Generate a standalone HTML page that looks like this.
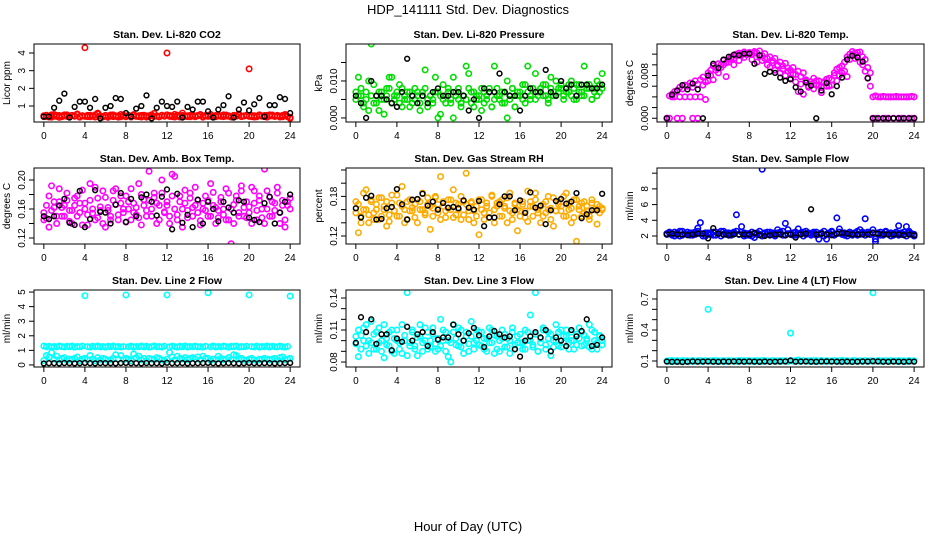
<!DOCTYPE html>
<html><head><meta charset="utf-8"><style>
html,body{margin:0;padding:0;background:#fff;}
svg{display:block;font-family:"Liberation Sans",Arial,sans-serif;}
</style></head><body>
<svg id="chart" width="936" height="540" viewBox="0 0 936 540" xmlns="http://www.w3.org/2000/svg">
<text x="468" y="14" text-anchor="middle" font-size="13">HDP_141111  Std. Dev. Diagnostics</text>
<text x="468" y="531" text-anchor="middle" font-size="13">Hour of Day (UTC)</text>
</svg>
<script>
const hours=[0,.25,.5,.75,1,1.25,1.5,1.75,2,2.25,2.5,2.75,3,3.25,3.5,3.75,4,4.25,4.5,4.75,5,5.25,5.5,5.75,6,6.25,6.5,6.75,7,7.25,7.5,7.75,8,8.25,8.5,8.75,9,9.25,9.5,9.75,10,10.25,10.5,10.75,11,11.25,11.5,11.75,12,12.25,12.5,12.75,13,13.25,13.5,13.75,14,14.25,14.5,14.75,15,15.25,15.5,15.75,16,16.25,16.5,16.75,17,17.25,17.5,17.75,18,18.25,18.5,18.75,19,19.25,19.5,19.75,20,20.25,20.5,20.75,21,21.25,21.5,21.75,22,22.25,22.5,22.75,23,23.25,23.5,23.75,24];
const hoursK=[0,.5,1,1.5,2,2.5,3,3.5,4,4.5,5,5.5,6,6.5,7,7.5,8,8.5,9,9.5,10,10.5,11,11.5,12,12.5,13,13.5,14,14.5,15,15.5,16,16.5,17,17.5,18,18.5,19,19.5,20,20.5,21,21.5,22,22.5,23,23.5,24];
const xTicks=[0,4,8,12,16,20,24];

const co2A=[.45,.40,.38,.50,.42,.47,.36,.44,.50,.41,.39,.46,.43,.52,.37,.45,4.3,.40,.48,.42,.38,.55,.44,.40,.47,.36,.43,.50,.41,.45,.39,.48,.42,.46,.38,.51,.44,.40,.47,.43,.37,.45,.50,.41,.44,.39,.48,.42,4.0,.46,.40,.53,.43,.38,.47,.41,.45,.39,.50,.42,.44,.48,.37,.46,.41,.52,.43,.39,.47,.45,.40,.49,.42,.38,.46,.44,.50,.41,.43,.47,3.1,.40,.45,.39,.48,.42,.46,.37,.50,.44,.41,.47,.43,.39,.45,.40,.35];
const co2B=[.40,.48,.43,.37,.52,.41,.46,.39,.44,.50,.38,.47,.42,.55,.40,.45,.41,.47,.39,.44,.50,.60,.43,.38,.46,.42,.49,.40,.44,.37,.52,.45,.39,.47,.43,.50,.41,.45,.38,.48,.44,.40,.46,.58,.42,.39,.47,.43,.50,.41,.45,.38,.48,.42,.60,.44,.40,.47,.43,.39,.46,.52,.41,.45,.48,.42,.38,.46,.44,.41,.50,.43,.45,.39,.47,.42,.55,.40,.44,.48,.41,.46,.38,.43,.50,.44,.40,.47,.43,.49,.41,.45,.38,.46,.52,.42,.30];
const co2K=[.40,.40,.90,1.30,1.70,.35,.95,1.25,1.25,.90,1.40,.30,.90,1.00,1.45,1.40,.60,.40,.85,1.00,1.60,.30,.90,1.25,1.00,.95,1.25,.35,.95,.80,1.25,1.25,.70,.35,.80,1.05,1.55,.35,.80,1.20,.75,1.10,1.45,.40,1.05,1.05,1.50,1.40,.60];

const presA=[.007,.011,.006,.003,.005,.010,.020,.004,.006,.002,.007,.005,.008,.011,.004,.006,.007,.009,.003,.006,.005,.007,.004,.008,.006,.002,.007,.013,.005,.006,.004,.011,.007,.001,.005,.006,.008,.004,.011,.007,.005,.003,.006,.014,.008,.004,.007,.005,.006,.002,.007,.005,.008,.003,.014,.006,.005,.007,.004,.010,.006,.008,.003,.006,.007,.005,.009,.014,.006,.008,.005,.007,.008,.006,.009,.005,.011,.007,.006,.008,.009,.006,.008,.007,.010,.005,.009,.007,.006,.014,.008,.009,.005,.008,.010,.007,.012];
const presB=[.005,.006,.008,.004,.007,.002,.006,.009,.004,.007,.005,.001,.006,.008,.011,.005,.006,.004,.008,.005,.007,.003,.006,.005,.007,.004,.006,.008,.003,.006,.005,.007,.000,.006,.009,.004,.007,.005,.000,.006,.008,.004,.006,.005,.012,.007,.003,.006,.005,.008,.004,.006,.007,.003,.005,.008,.006,.004,.007,.000,.005,.008,.003,.007,.006,.009,.004,.007,.005,.008,.012,.006,.007,.009,.006,.004,.008,.006,.010,.007,.008,.005,.007,.009,.006,.008,.005,.009,.007,.006,.009,.008,.005,.007,.006,.009,.008];
const presK=[.006,.004,.000,.010,.006,.006,.005,.004,.003,.007,.016,.006,.004,.006,.004,.007,.008,.006,.006,.007,.007,.006,.002,.005,.000,.008,.007,.007,.012,.007,.006,.006,.002,.006,.008,.007,.007,.013,.007,.006,.010,.008,.009,.006,.009,.009,.008,.008,.009];

const tempA=[.0000,.0042,.0045,.0050,.0052,.0058,.0055,.0062,.0060,.0066,.0058,.0070,.0064,.0072,.0077,.0068,.0085,.0090,.0098,.0095,.0102,.0100,.0108,.0104,.0110,.0115,.0112,.0120,.0122,.0118,.0124,.0121,.0123,.0119,.0125,.0122,.0126,.0117,.0121,.0112,.0115,.0108,.0112,.0100,.0105,.0098,.0103,.0094,.0090,.0095,.0082,.0088,.0078,.0085,.0072,.0060,.0068,.0075,.0062,.0070,.0058,.0066,.0073,.0060,.0072,.0085,.0092,.0080,.0098,.0088,.0115,.0120,.0125,.0122,.0118,.0124,.0115,.0110,.0095,.0085,.0040,.0042,.0040,.0040,.0041,.0040,.0040,.0040,.0040,.0041,.0040,.0040,.0040,.0040,.0040,.0041,.0040];
const tempB=[.0000,.0000,.0040,.0040,.0000,.0040,.0000,.0040,.0060,.0040,.0000,.0040,.0000,.0040,.0062,.0035,.0070,.0080,.0072,.0090,.0085,.0095,.0100,.0078,.0105,.0112,.0100,.0118,.0108,.0121,.0114,.0119,.0120,.0110,.0122,.0105,.0116,.0108,.0112,.0100,.0096,.0104,.0090,.0098,.0085,.0092,.0080,.0088,.0075,.0082,.0068,.0050,.0064,.0045,.0070,.0058,.0064,.0055,.0070,.0062,.0048,.0068,.0060,.0075,.0062,.0080,.0070,.0095,.0085,.0105,.0078,.0110,.0118,.0112,.0123,.0105,.0100,.0088,.0075,.0060,.0000,.0000,.0000,.0040,.0000,.0000,.0000,.0040,.0000,.0040,.0000,.0000,.0000,.0040,.0000,.0000,.0000];
const tempK=[.0000,.0044,.0052,.0062,.0054,.0065,.0054,.0000,.0080,.0102,.0094,.0110,.0115,.0119,.0118,.0121,.0121,.0102,.0118,.0083,.0087,.0085,.0076,.0070,.0073,.0058,.0050,.0067,.0061,.0000,.0052,.0066,.0045,.0060,.0076,.0110,.0117,.0114,.0106,.0075,.0000,.0000,.0000,.0000,.0000,.0000,.0000,.0000,.0000];

const ambA=[.155,.147,.178,.192,.162,.140,.170,.150,.165,.182,.143,.158,.175,.150,.168,.186,.160,.138,.172,.154,.190,.148,.163,.140,.176,.158,.145,.185,.166,.152,.178,.160,.142,.170,.188,.155,.162,.148,.180,.173,.158,.212,.150,.176,.168,.145,.182,.156,.165,.140,.178,.205,.152,.170,.160,.186,.148,.175,.162,.190,.155,.144,.168,.158,.172,.150,.183,.162,.148,.176,.160,.188,.145,.112,.166,.178,.155,.192,.150,.170,.163,.140,.185,.158,.172,.148,.215,.160,.176,.150,.168,.190,.155,.172,.145,.165,.175];
const ambB=[.145,.165,.135,.158,.170,.150,.188,.162,.150,.172,.158,.140,.165,.178,.155,.138,.168,.152,.195,.160,.145,.175,.158,.185,.135,.162,.150,.172,.188,.145,.168,.155,.178,.160,.145,.168,.152,.195,.138,.165,.150,.172,.160,.182,.140,.165,.200,.155,.170,.150,.208,.160,.145,.178,.135,.168,.158,.182,.150,.165,.172,.138,.160,.178,.150,.195,.165,.140,.158,.170,.152,.145,.182,.160,.140,.172,.150,.185,.162,.148,.155,.190,.168,.145,.178,.160,.140,.185,.150,.170,.158,.182,.140,.165,.135,.170,.160];
const ambK=[.150,.146,.150,.165,.174,.141,.138,.185,.135,.146,.186,.156,.155,.140,.166,.182,.142,.174,.150,.176,.180,.170,.151,.177,.187,.132,.181,.141,.152,.135,.173,.140,.170,.160,.143,.170,.162,.155,.172,.170,.148,.145,.142,.168,.177,.140,.155,.170,.180];

const rhA=[.172,.125,.150,.185,.160,.140,.175,.155,.168,.145,.178,.160,.135,.152,.170,.158,.182,.150,.165,.140,.172,.158,.163,.148,.175,.160,.185,.152,.168,.130,.162,.178,.155,.210,.165,.148,.175,.160,.190,.152,.168,.145,.172,.215,.158,.170,.140,.165,.122,.175,.155,.165,.148,.180,.160,.170,.150,.175,.162,.140,.185,.155,.168,.128,.158,.172,.148,.188,.165,.150,.175,.160,.140,.168,.155,.180,.162,.135,.158,.172,.165,.150,.185,.160,.140,.175,.112,.165,.150,.172,.158,.145,.170,.160,.138,.165,.162];
const rhB=[.155,.168,.140,.160,.190,.152,.172,.145,.160,.178,.150,.165,.172,.142,.182,.158,.150,.170,.195,.160,.145,.175,.158,.168,.140,.172,.160,.155,.178,.165,.150,.180,.168,.145,.172,.158,.162,.175,.148,.170,.160,.180,.152,.168,.145,.172,.158,.150,.175,.160,.145,.170,.155,.182,.140,.165,.172,.150,.165,.178,.158,.145,.170,.160,.150,.168,.158,.142,.172,.165,.185,.155,.165,.150,.172,.160,.145,.178,.158,.168,.158,.180,.150,.170,.162,.148,.175,.160,.170,.155,.165,.150,.175,.160,.168,.155,.160];
const rhK=[.162,.148,.178,.181,.145,.146,.162,.164,.191,.168,.145,.175,.176,.184,.166,.172,.160,.170,.163,.164,.162,.174,.163,.160,.173,.135,.148,.148,.168,.180,.180,.159,.174,.155,.186,.163,.166,.138,.159,.173,.176,.169,.172,.185,.147,.153,.159,.159,.184];

const sampA=[2.3,2.4,2.1,2.5,2.2,2.0,2.6,2.3,2.2,2.4,2.1,2.5,3.0,3.7,2.3,2.0,2.4,2.2,2.5,2.1,2.3,2.6,2.2,2.4,2.1,2.3,2.5,4.7,2.2,3.2,2.4,2.1,2.3,2.0,1.8,2.4,2.2,10.5,2.3,2.5,2.1,2.4,2.2,2.8,2.5,2.1,3.6,2.3,2.2,2.4,2.1,2.9,2.3,2.5,2.2,2.4,2.1,2.3,2.5,2.2,2.4,2.0,1.6,2.3,2.5,2.2,4.3,2.9,2.4,2.1,2.3,2.5,2.2,2.4,2.1,2.8,2.3,4.2,2.5,2.2,2.8,1.3,2.4,2.1,2.3,2.5,2.2,2.4,2.1,2.3,3.3,2.2,2.5,3.2,2.4,2.2,2.0];
const sampB=[2.2,2.5,2.3,2.0,2.4,2.6,2.1,2.3,2.5,2.1,2.4,2.2,2.6,2.3,2.0,2.4,2.2,2.4,2.1,2.5,2.3,2.0,2.6,2.2,2.4,2.1,2.3,2.6,2.2,2.5,2.0,2.3,2.1,2.5,2.3,2.2,2.6,2.0,2.4,2.2,2.5,2.2,2.0,2.4,2.3,2.6,2.1,2.8,2.3,2.1,2.5,2.2,2.4,2.0,2.6,2.3,2.2,2.5,2.1,1.6,2.3,2.6,2.2,2.4,2.6,2.1,2.3,2.5,2.2,2.4,2.0,2.3,2.1,2.4,2.6,2.2,2.5,2.1,2.3,2.2,2.4,1.6,2.2,2.5,2.1,2.6,2.3,2.0,2.3,2.5,2.1,2.4,2.2,2.0,2.6,2.3,2.2];
const sampK=[2.2,2.3,2.2,2.2,2.1,2.2,2.3,2.3,1.7,3.0,2.3,2.2,2.1,2.2,2.2,2.2,2.2,2.4,2.1,2.0,2.1,2.2,2.2,2.1,2.2,1.8,2.2,2.3,5.4,2.2,2.3,2.2,2.1,2.3,2.4,2.3,2.2,2.2,2.2,2.2,2.4,2.3,2.2,2.2,2.2,2.2,2.1,2.2,2.1];

const l2A=[1.30,1.25,1.28,1.22,1.27,1.24,1.30,1.26,1.23,1.28,1.25,1.30,1.22,1.27,1.25,1.29,4.75,1.26,1.23,1.28,1.25,1.30,1.24,1.27,1.22,1.28,1.25,1.30,1.24,1.27,1.23,1.26,4.80,1.25,1.29,1.23,1.27,1.25,1.30,1.24,1.28,1.22,1.26,1.30,1.25,1.27,1.23,1.28,4.80,1.24,1.29,1.26,1.22,1.28,1.25,1.30,1.23,1.27,1.25,1.29,1.24,1.26,1.22,1.28,4.95,1.25,1.30,1.23,1.27,1.24,1.29,1.26,1.22,1.28,1.25,1.30,1.23,1.27,1.25,1.28,4.80,1.26,1.24,1.29,1.22,1.27,1.25,1.30,1.23,1.28,1.26,1.24,1.29,1.25,1.22,1.27,4.72];
const l2B=[.30,.65,.55,.85,.40,.60,.35,.45,.50,.30,.40,.35,.45,.55,.30,.40,.45,.35,.65,.40,.30,.50,.35,.45,.40,.30,.35,.45,.70,.40,.65,.35,.45,.40,.30,.75,.50,.60,.35,.45,.30,.45,.40,.35,.50,.45,.35,.30,.40,.85,.55,.35,.60,.45,.40,.50,.35,.45,.50,.40,.55,.35,.60,.45,.45,.30,.40,.35,.60,.45,.35,.40,.50,.35,.70,.65,.40,.45,.35,.30,.40,.45,.35,.30,.40,.35,.45,.40,.35,.40,.45,.30,.50,.55,.35,.40,.45];
const l2K=[.10,.12,.12,.11,.13,.12,.11,.12,.14,.12,.11,.13,.12,.12,.11,.13,.14,.12,.12,.11,.13,.12,.12,.11,.15,.12,.12,.13,.11,.12,.12,.13,.14,.12,.11,.12,.13,.12,.11,.12,.14,.12,.12,.13,.12,.11,.12,.13,.14];

const l3A=[.097,.085,.105,.112,.095,.100,.118,.092,.108,.098,.090,.115,.102,.095,.110,.088,.100,.092,.115,.105,.086,.098,.110,.095,.103,.115,.090,.100,.108,.094,.112,.097,.092,.120,.100,.108,.085,.098,.115,.102,.095,.110,.088,.104,.097,.118,.092,.100,.108,.095,.102,.090,.112,.098,.105,.092,.100,.110,.094,.102,.088,.108,.096,.104,.098,.092,.110,.100,.124,.094,.106,.090,.102,.112,.096,.108,.086,.100,.115,.095,.110,.098,.104,.092,.108,.100,.096,.112,.095,.105,.100,.115,.092,.108,.098,.105,.100];
const l3B=[.104,.110,.092,.100,.115,.088,.098,.106,.092,.112,.100,.084,.096,.108,.090,.102,.110,.098,.088,.100,.145,.095,.108,.092,.086,.104,.098,.112,.092,.100,.106,.090,.102,.095,.110,.090,.100,.080,.108,.096,.112,.094,.100,.108,.090,.104,.098,.110,.096,.108,.092,.102,.098,.110,.088,.104,.090,.102,.106,.094,.100,.112,.092,.098,.106,.098,.092,.108,.100,.096,.145,.090,.098,.110,.092,.102,.106,.094,.100,.108,.094,.104,.110,.098,.100,.092,.106,.102,.108,.096,.102,.094,.110,.100,.092,.104,.096];
const l3K=[.098,.122,.108,.120,.097,.106,.106,.091,.102,.099,.113,.100,.106,.108,.095,.108,.101,.103,.103,.115,.106,.100,.107,.112,.105,.094,.104,.109,.106,.103,.104,.092,.085,.100,.104,.108,.103,.110,.090,.103,.100,.095,.110,.104,.109,.120,.095,.096,.103];

const l4A=[.100,.095,.105,.098,.102,.096,.104,.099,.101,.097,.103,.100,.098,.105,.096,.102,.600,.099,.104,.097,.101,.100,.095,.103,.098,.102,.100,.096,.104,.099,.101,.097,.103,.100,.098,.102,.096,.105,.099,.101,.097,.104,.100,.098,.102,.099,.103,.096,.370,.101,.099,.110,.097,.103,.100,.098,.102,.096,.104,.099,.101,.097,.103,.100,.098,.102,.100,.096,.105,.099,.101,.097,.104,.100,.098,.102,.096,.103,.099,.101,.760,.098,.102,.100,.097,.104,.099,.101,.100,.096,.103,.099,.101,.097,.102,.100,.100];
const l4B=[.098,.102,.096,.100,.104,.099,.097,.103,.101,.099,.104,.097,.102,.100,.096,.103,.099,.101,.097,.104,.100,.098,.102,.096,.103,.100,.098,.101,.097,.104,.099,.102,.100,.096,.103,.099,.101,.097,.104,.100,.098,.102,.099,.103,.096,.101,.100,.097,.104,.099,.102,.100,.097,.103,.099,.101,.096,.102,.100,.098,.104,.099,.101,.097,.100,.103,.098,.101,.106,.099,.102,.097,.100,.104,.098,.101,.099,.103,.096,.102,.100,.099,.104,.097,.101,.100,.098,.103,.099,.101,.097,.102,.100,.098,.104,.099,.101];
const l4K=[.095,.092,.093,.090,.093,.096,.094,.095,.096,.094,.093,.095,.094,.096,.095,.094,.096,.094,.093,.095,.092,.094,.095,.096,.105,.094,.095,.096,.094,.093,.095,.096,.095,.094,.093,.095,.092,.094,.096,.095,.098,.096,.094,.093,.095,.094,.093,.095,.094];

const panels=[
 {name:'co2',title:'Stan. Dev. Li-820 CO2',ylab:'Licor ppm',col:0,row:0,ymin:.095,ymax:4.51,yTicks:[1,2,3,4],yLabels:['1','2','3','4'],color:'#ff0000',a:co2A,b:co2B,k:co2K},
 {name:'pressure',title:'Stan. Dev. Li-820 Pressure',ylab:'kPa',col:1,row:0,ymin:-.0011,ymax:.020,yTicks:[0,.005,.010,.015],yLabels:['0.000','','0.010',''],color:'#00dd00',a:presA,b:presB,k:presK},
 {name:'licor-temp',title:'Stan. Dev. Li-820 Temp.',ylab:'degrees C',col:2,row:0,ymin:-.0007,ymax:.0139,yTicks:[0,.002,.004,.006,.008,.010,.012],yLabels:['0.000','','','','0.008','',''],color:'#ff00ff',a:tempA,b:tempB,k:tempK},
 {name:'amb-box-temp',title:'Stan. Dev. Amb. Box Temp.',ylab:'degrees C',col:0,row:1,ymin:.1117,ymax:.2166,yTicks:[.12,.14,.16,.18,.20],yLabels:['0.12','','0.16','','0.20'],color:'#ff00ff',a:ambA,b:ambB,k:ambK},
 {name:'gas-stream-rh',title:'Stan. Dev. Gas Stream RH',ylab:'percent',col:1,row:1,ymin:.1079,ymax:.223,yTicks:[.12,.14,.16,.18,.20,.22],yLabels:['0.12','','','0.18','',''],color:'#ffaa00',a:rhA,b:rhB,k:rhK},
 {name:'sample-flow',title:'Stan. Dev. Sample Flow',ylab:'ml/min',col:2,row:1,ymin:.98,ymax:10.66,yTicks:[2,4,6,8,10],yLabels:['2','4','6','8',''],color:'#0000ff',a:sampA,b:sampB,k:sampK},
 {name:'line2-flow',title:'Stan. Dev. Line 2 Flow',ylab:'ml/min',col:0,row:2,ymin:-.14,ymax:5.14,yTicks:[0,1,2,3,4,5],yLabels:['0','1','2','3','4','5'],color:'#00ffff',a:l2A,b:l2B,k:l2K},
 {name:'line3-flow',title:'Stan. Dev. Line 3 Flow',ylab:'ml/min',col:1,row:2,ymin:.0753,ymax:.1475,yTicks:[.08,.09,.10,.11,.12,.13,.14],yLabels:['0.08','','','0.11','','','0.14'],color:'#00ffff',a:l3A,b:l3B,k:l3K},
 {name:'line4-flow',title:'Stan. Dev. Line 4 (LT) Flow',ylab:'ml/min',col:2,row:2,ymin:.042,ymax:.787,yTicks:[.1,.2,.3,.4,.5,.6,.7],yLabels:['0.1','','','0.4','','','0.7'],color:'#00ffff',a:l4A,b:l4B,k:l4K}
];
const colL=[34,346,657], colR=[300,612,924], rowT=[44,168,290], rowB=[122,244,367];
const NS='http://www.w3.org/2000/svg';
const svg=document.getElementById('chart');
function mk(tag,attrs,parent){const e=document.createElementNS(NS,tag);for(const k in attrs)e.setAttribute(k,attrs[k]);parent.appendChild(e);return e;}

panels.forEach(p=>{
  const L=colL[p.col],R=colR[p.col],T=rowT[p.row],B=rowB[p.row];
  const xs=v=>L+(v+0.96)/25.92*(R-L);
  const ys=v=>B-(v-p.ymin)/(p.ymax-p.ymin)*(B-T);
  const g=mk('g',{},svg);
  
  
  const t=mk('text',{x:(L+R)/2,y:T-6,'text-anchor':'middle','font-size':'10.5','font-weight':'bold'},g);
  t.textContent=p.title;
  
  
  const yl=mk('text',{x:0,y:0,'text-anchor':'middle','font-size':'10',transform:`translate(${L-24},${(T+B)/2}) rotate(-90)`},g);
  yl.textContent=p.ylab;
  
  
  xTicks.forEach(v=>{
    const x=xs(v);
    const tk=mk('line',{x1:x,x2:x,y1:B,y2:B+5,stroke:'#000','stroke-width':1},g);
    
    
    const tl=mk('text',{x:x,y:B+17,'text-anchor':'middle','font-size':'10'},g);
    tl.textContent=String(v);
    
    
  });
  p.yTicks.forEach((v,i)=>{
    const y=ys(v);
    const tk=mk('line',{x1:L-5,x2:L,y1:y,y2:y,stroke:'#000','stroke-width':1},g);
    
    
    if(p.yLabels[i]){
      const tl=mk('text',{x:0,y:0,'text-anchor':'middle','font-size':'10',transform:`translate(${L-9},${y}) rotate(-90)`},g);
      tl.textContent=p.yLabels[i];
      
      
    }
  });
  const clipId='clip-'+p.name;
  const cp=mk('clipPath',{id:clipId},g);
  mk('rect',{x:L,y:T,width:R-L,height:B-T},cp);
  const pts=mk('g',{'clip-path':`url(#${clipId})`},g);
  [p.a,p.b].forEach(arr=>{
    const n=Math.min(arr.length,hours.length);
    for(let i=0;i<n;i++){
      const c=mk('circle',{cx:xs(hours[i]),cy:ys(arr[i]),r:2.7,fill:'none',stroke:p.color,'stroke-width':1.6},pts);
      
      
    }
  });
  const nk=Math.min(p.k.length,hoursK.length);
  for(let i=0;i<nk;i++){
    const c=mk('circle',{cx:xs(hoursK[i]),cy:ys(p.k[i]),r:2.4,fill:'none',stroke:'#000','stroke-width':1.5},pts);
    
    
  }
  const box=mk('rect',{x:L,y:T,width:R-L,height:B-T,fill:'none',stroke:'#000','stroke-width':1},g);
  
  
});
</script>
</body></html>
